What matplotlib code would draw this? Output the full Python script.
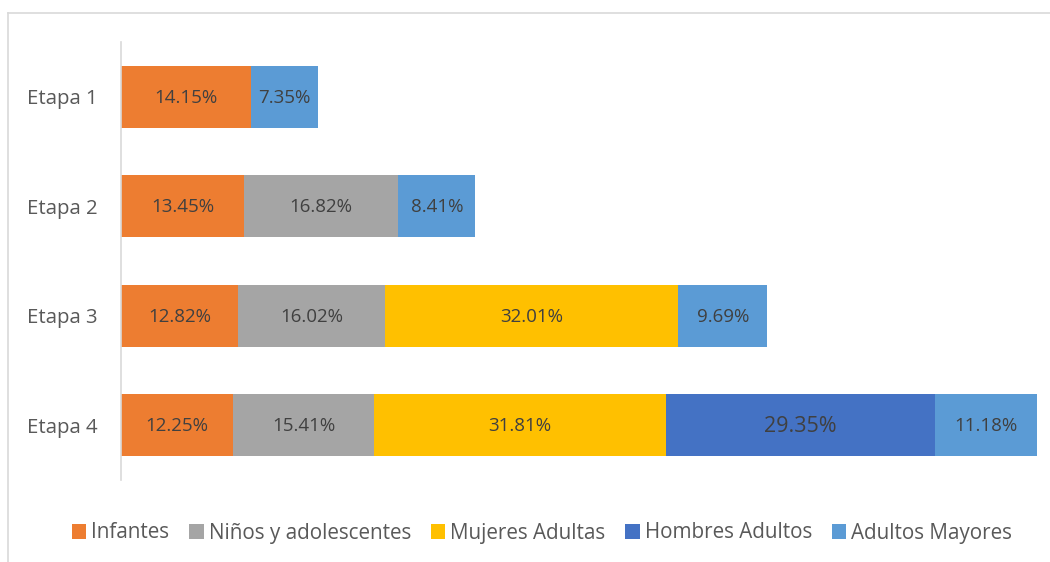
import matplotlib
matplotlib.use("Agg")
import matplotlib.pyplot as plt
from matplotlib.lines import Line2D
import numpy as np

categories = ["Etapa 1", "Etapa 2", "Etapa 3", "Etapa 4"]
series_names = ["Infantes", "Niños y adolescentes", "Mujeres Adultas", "Hombres Adultos", "Adultos Mayores"]
infantes = [14.15, 13.45, 12.82, 12.25]
ninos = [0, 16.82, 16.02, 15.41]
mujeres = [0, 0, 32.01, 31.81]
hombres = [0, 0, 0, 29.35]
mayores = [7.35, 8.41, 9.69, 11.18]
colors = ["#ED7D31", "#A5A5A5", "#FFC000", "#4472C4", "#5B9BD5"]

plt.rcParams['font.family'] = ['Open Sans', 'DejaVu Sans']

fig = plt.figure(figsize=(10.5, 5.62), dpi=100)
ax = fig.add_axes([121/1050, 1-480/562, (1037-121)/1050, (480-42)/562])

y = np.arange(len(categories))
left = np.zeros(len(categories))
for name, vals, c in zip(series_names, [infantes, ninos, mujeres, hombres, mayores], colors):
    vals = np.array(vals, dtype=float)
    ax.barh(y, vals, left=left, height=0.565, color=c, label=name, edgecolor='none')
    for i, v in enumerate(vals):
        if v > 0:
            fs = 15.5 if name == "Hombres Adultos" else 13.5
            ax.text(left[i] + v/2, y[i] + 0.01, f"{v:.2f}%", ha='center', va='center',
                    fontsize=fs, color='#404040')
    left += vals

ax.set_xlim(0, 100)
ax.set_ylim(3.5, -0.5)
ax.set_yticks(y)
ax.set_yticklabels(categories, fontsize=14.7, color='#595959')
ax.tick_params(axis='y', length=0, pad=17)
ax.set_xticks([])
for s in ['top', 'right', 'bottom']:
    ax.spines[s].set_visible(False)
ax.spines['left'].set_color('#D9D9D9')
ax.spines['left'].set_linewidth(1.2)

# outer chart frame
fig.add_artist(Line2D([8/1050, 1], [1-13/562, 1-13/562], color='#D9D9D9', lw=1.2, transform=fig.transFigure))
fig.add_artist(Line2D([8/1050, 8/1050], [0, 1-13/562], color='#D9D9D9', lw=1.2, transform=fig.transFigure))

leg = fig.legend(loc='center', bbox_to_anchor=(542/1050, 1-533/562), ncol=5, frameon=False,
                 fontsize=14.9, handlelength=0.7, handleheight=0.7, handletextpad=0.25,
                 columnspacing=0.95)
for t in leg.get_texts():
    t.set_color('#595959')

fig.savefig("out.png", dpi=100)
